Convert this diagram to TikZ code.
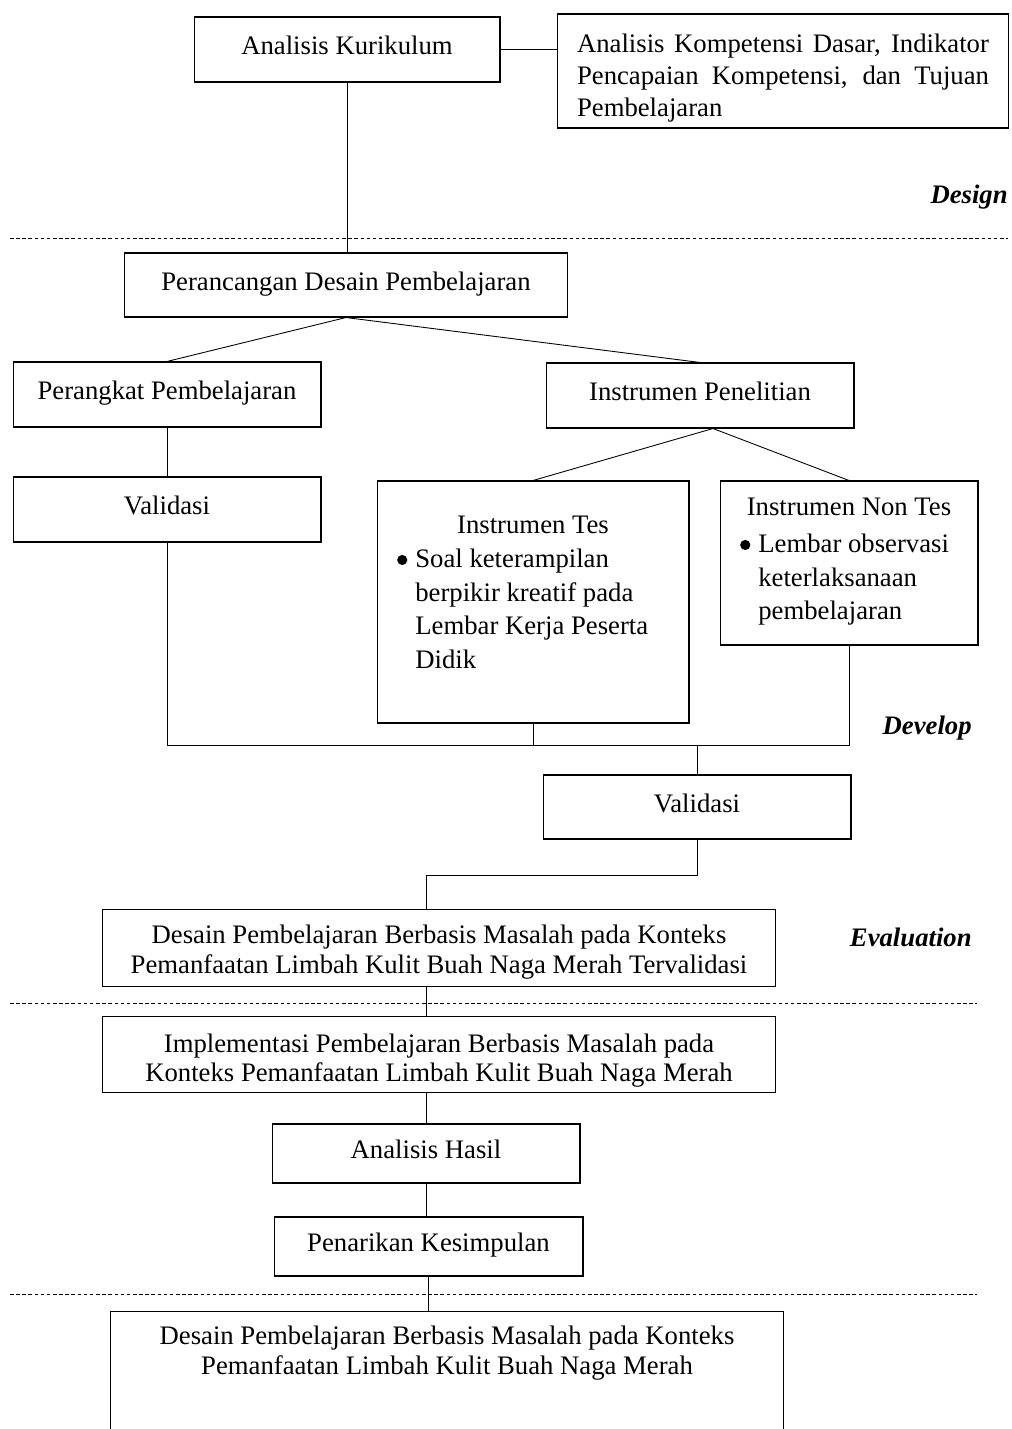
\documentclass[tikz,border=0pt]{standalone}
\usepackage{fontspec}
\setmainfont{Liberation Serif}
\usetikzlibrary{positioning}
\newcommand{\boxfont}{\fontsize{15.2}{18.2}\selectfont}
\newcommand{\widefont}{\fontsize{15.2}{16.8}\selectfont}
\newcommand{\listfont}{\fontsize{15.2}{19}\selectfont}
\newcommand{\listdot}{\llap{\tikz[baseline=-4.5pt]\fill (0,0) circle (2.9pt);\hspace{.16cm}}}
\tikzset{
	block/.style={
		draw,
		rectangle,
		align=center,
		inner sep=0pt,
		line width=.6pt,
		font=\boxfont
	},
	smallblock/.style={block, minimum width=6.16cm, minimum height=1.3cm, text height=11pt, text depth=5pt},
	wideblock/.style={block, minimum width=13.48cm, minimum height=1.53cm, font=\widefont},
	plain/.style={align=left, inner sep=0pt, font=\listfont},
	phase/.style={inner sep=0pt, font=\boxfont\bfseries\itshape},
	separator/.style={line width=.5pt, dash pattern=on 2pt off 1.5pt},
	link/.style={line width=.5pt}
}

\begin{document}
\begin{tikzpicture}[x=0.02cm, y=-0.02cm]
			\useasboundingbox (0,0) rectangle (1011,1429);
			
			\draw node[smallblock, minimum width=6.12cm](AnalisisKurikulum) at (347,49.5){Analisis Kurikulum};
			\draw node[block, minimum width=9.04cm, minimum height=2.28cm, text width=8.24cm, align=justify](Kompetensi) at (783,71){\rule{0pt}{18.4pt}Analisis Kompetensi Dasar, Indikator\linebreak Pencapaian Kompetensi, dan Tujuan\linebreak Pembelajaran};
			\draw node[smallblock, minimum width=8.88cm, minimum height=1.28cm](Perancangan) at (346,285){Perancangan Desain Pembelajaran};
			\draw node[smallblock](Perangkat) at (167,394.5){Perangkat Pembelajaran};
			\draw node[smallblock](Instrumen) at (700,395.5){Instrumen Penelitian};
			\draw node[smallblock](ValidasiA) at (167,509.5){Validasi};
			
			\draw node[block, minimum width=6.24cm, minimum height=4.84cm](InstrumenTes) at (533,602){};
			\node[plain](TesTitle) at (533,525){Instrumen Tes};
			\node[plain, anchor=north west](TesList) at (415,549){\listdot Soal keterampilan\\berpikir kreatif pada\\Lembar Kerja Peserta\\Didik};
			\draw node[block, minimum width=5.16cm, minimum height=3.28cm](InstrumenNonTes) at (849,563){};
			\node[plain](NonTesTitle) at (849,507){Instrumen Non Tes};
			\node[plain, anchor=north west](NonTesList) at (758,534){\listdot Lembar observasi\\keterlaksanaan\\pembelajaran};
			
			\draw node[smallblock, minimum height=1.28cm](ValidasiB) at (697,807){Validasi};
			\draw node[wideblock](DesainValid) at (439,948){\rule{0pt}{15.5pt}Desain Pembelajaran Berbasis Masalah pada Konteks\\Pemanfaatan Limbah Kulit Buah Naga Merah Tervalidasi};
			\draw node[wideblock](Implementasi) at (439,1054.5){\rule{0pt}{17.5pt}Implementasi Pembelajaran Berbasis Masalah pada\\Konteks Pemanfaatan Limbah Kulit Buah Naga Merah};
			\draw node[smallblock, minimum height=1.18cm](AnalisisHasil) at (426,1153.5){Analisis Hasil};
			\draw node[smallblock, minimum width=6.18cm, minimum height=1.18cm](Kesimpulan) at (428.5,1246.5){Penarikan Kesimpulan};
			\draw node[wideblock, minimum height=3cm, anchor=north](DesainAkhir) at (447,1311){};
			\node[plain, align=center, anchor=north, font=\widefont](DesainAkhirText) at (447,1326){Desain Pembelajaran Berbasis Masalah pada Konteks\\Pemanfaatan Limbah Kulit Buah Naga Merah};
			
			% fase
			\node[phase, anchor=east](Design) at (1008,197){Design};
			\node[phase, anchor=east](Develop) at (972,728){Develop};
			\node[phase, anchor=east](Evaluation) at (972,937){Evaluation};
			\draw[separator] (10,238) -- (1008,238);
			\draw[separator] (10,1003) -- (977,1003);
			\draw[separator] (10,1294) -- (977,1294);
			
			% penghubung
			\coordinate (Join) at (697,745);
			\coordinate (Bend) at (426,875);
			\draw[link] (AnalisisKurikulum.east) -- (AnalisisKurikulum.east -| Kompetensi.west);
			\draw[link] (AnalisisKurikulum.south) -- (AnalisisKurikulum.south |- Perancangan.north);
			\draw[link] (Perancangan.south) -- (Perangkat.north);
			\draw[link] (Perancangan.south) -- (Instrumen.north);
			\draw[link] (Perangkat.south) -- (ValidasiA.north);
			\draw[link] ([xshift=.26cm]Instrumen.south) -- (InstrumenTes.north);
			\draw[link] ([xshift=.26cm]Instrumen.south) -- (InstrumenNonTes.north);
			\draw[link] (ValidasiA.south) |- (Join);
			\draw[link] (InstrumenTes.south) |- (Join);
			\draw[link] (InstrumenNonTes.south) |- (Join);
			\draw[link] (Join) -- (ValidasiB.north);
			\draw[link] (ValidasiB.south) |- (Bend) -- (Bend |- DesainValid.north);
			\draw[link] (Bend |- DesainValid.south) -- (Bend |- Implementasi.north);
			\draw[link] (Bend |- Implementasi.south) -- (AnalisisHasil.north);
			\draw[link] (AnalisisHasil.south) -- (AnalisisHasil.south |- Kesimpulan.north);
			\draw[link] (Kesimpulan.south) -- (Kesimpulan.south |- DesainAkhir.north);
		\end{tikzpicture}
\end{document}
